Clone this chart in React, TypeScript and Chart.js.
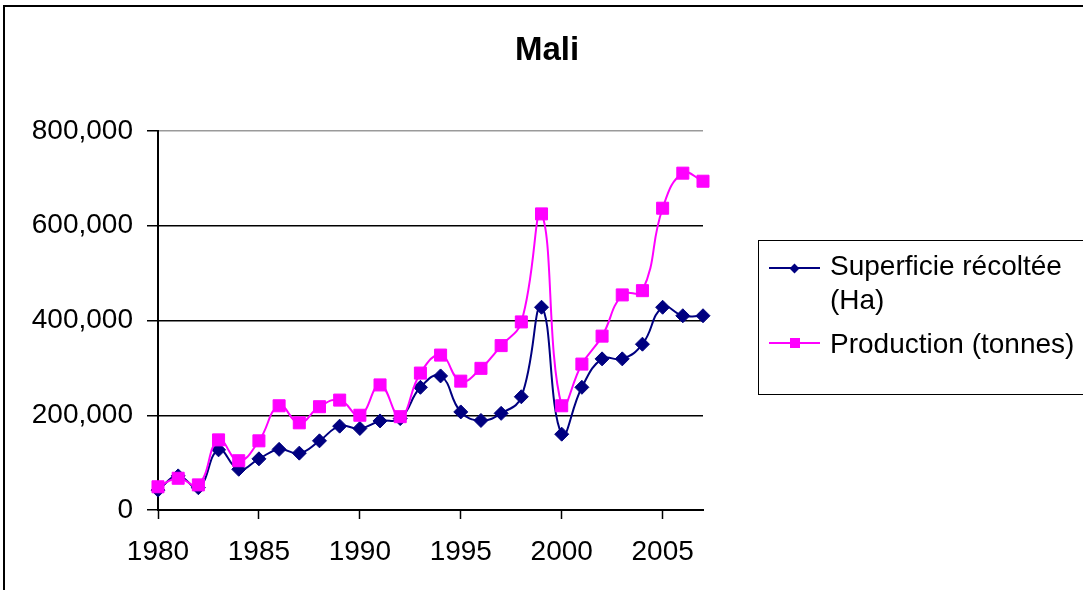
import React, { useEffect, useRef } from 'react';
import { Chart, registerables } from 'chart.js';

Chart.register(...registerables);

const years = [
  1980, 1981, 1982, 1983, 1984, 1985, 1986, 1987, 1988, 1989,
  1990, 1991, 1992, 1993, 1994, 1995, 1996, 1997, 1998, 1999,
  2000, 2001, 2002, 2003, 2004, 2005, 2006, 2007,
];

const superficie = [
  42000, 72000, 47000, 127000, 86000, 108000, 128000, 120000, 146000, 177000,
  172000, 188000, 193000, 259000, 283000, 207000, 189000, 204000, 239000, 428000,
  160000, 259000, 319000, 319000, 350000, 428000, 410000, 410000,
];

const production = [
  49000, 67000, 53000, 148000, 104000, 146000, 220000, 184000, 218000, 232000,
  200000, 264000, 197000, 289000, 327000, 272000, 299000, 347000, 397000, 625000,
  220000, 308000, 367000, 454000, 463000, 637000, 711000, 694000,
];

const yTickValues = [0, 200000, 400000, 600000, 800000];
const xTickValues = [1980, 1985, 1990, 1995, 2000, 2005];

const titleText = 'Mali';
const seriesNames = ['Superficie récoltée (Ha)', 'Production (tonnes)'];

const FONT = "'Liberation Sans', Arial, Helvetica, sans-serif";
const NAVY = '#000080';
const MAGENTA = '#FF00FF';

export default function App() {
  const ref = useRef<HTMLCanvasElement | null>(null);

  useEffect(() => {
    if (!ref.current) return;
    const chart = new Chart(ref.current, {
      type: 'line',
      data: {
        datasets: [
          {
            label: seriesNames[0],
            data: years.map((yr, i) => ({ x: yr, y: superficie[i] })),
            borderColor: NAVY,
            backgroundColor: NAVY,
            pointBackgroundColor: NAVY,
            pointBorderColor: NAVY,
            pointStyle: 'rectRot',
            pointRadius: 7,
            pointBorderWidth: 1,
            borderWidth: 2,
            tension: 0.45,
            clip: false,
            order: 1,
          },
          {
            label: seriesNames[1],
            data: years.map((yr, i) => ({ x: yr, y: production[i] })),
            borderColor: MAGENTA,
            backgroundColor: MAGENTA,
            pointBackgroundColor: MAGENTA,
            pointBorderColor: MAGENTA,
            pointStyle: 'rect',
            pointRadius: 8.5,
            pointBorderWidth: 1,
            borderWidth: 2,
            tension: 0.45,
            clip: false,
            order: 0,
          },
        ],
      },
      options: {
        animation: false,
        responsive: false,
        maintainAspectRatio: false,
        events: [],
        layout: { padding: { left: 8, right: 380, top: 131, bottom: 20 } },
        plugins: {
          legend: { display: false },
          tooltip: { enabled: false },
          title: { display: false },
        },
        scales: {
          x: {
            type: 'linear',
            min: 1980,
            max: 2007,
            afterBuildTicks: (s: any) => {
              s.ticks = xTickValues.map((v) => ({ value: v }));
            },
            afterFit: (s: any) => {
              s.height = 60;
            },
            ticks: {
              callback: (v: any) => String(v),
              color: '#000',
              font: { family: FONT, size: 28 },
              padding: 16,
              maxRotation: 0,
              autoSkip: false,
            },
            grid: {
              drawOnChartArea: false,
              tickLength: 9,
              tickColor: '#000',
              tickWidth: 1.5,
            },
            border: { color: '#000', width: 2 },
          },
          y: {
            min: 0,
            max: 800000,
            afterBuildTicks: (s: any) => {
              s.ticks = yTickValues.map((v) => ({ value: v }));
            },
            afterFit: (s: any) => {
              s.width = 150;
            },
            ticks: {
              callback: (v: any) => Number(v).toLocaleString('en-US'),
              color: '#000',
              font: { family: FONT, size: 28 },
              padding: 14,
            },
            grid: {
              color: (ctx: any) => (ctx.tick && ctx.tick.value === 800000 ? '#9a9a9a' : '#000'),
              lineWidth: 1.5,
              tickLength: 11,
              tickColor: '#000',
              tickWidth: 1.5,
            },
            border: { color: '#000', width: 2 },
          },
        },
      },
    } as any);
    return () => chart.destroy();
  }, []);

  const textStyle: React.CSSProperties = {
    position: 'absolute',
    fontFamily: FONT,
    fontSize: 28,
    lineHeight: '34px',
    color: '#000',
    whiteSpace: 'nowrap',
  };

  return (
    <div
      style={{
        position: 'fixed',
        left: 0,
        top: 0,
        width: 1083,
        height: 590,
        background: '#fff',
        overflow: 'hidden',
      }}
    >
      <div
        style={{
          position: 'absolute',
          left: 3,
          top: 5,
          width: 1200,
          height: 800,
          borderLeft: '2px solid #000',
          borderTop: '2px solid #000',
        }}
      />
      <canvas ref={ref} width={1083} height={590} style={{ position: 'absolute', left: 0, top: 0, display: 'block' }} />
      <div
        style={{
          position: 'absolute',
          left: 347,
          width: 400,
          top: 32,
          textAlign: 'center',
          fontFamily: FONT,
          fontWeight: 'bold',
          fontSize: 33,
          lineHeight: '33px',
          color: '#000',
        }}
      >
        {titleText}
      </div>
      <div
        style={{
          position: 'absolute',
          left: 758,
          top: 240,
          width: 400,
          height: 155,
          boxSizing: 'border-box',
          border: '1.5px solid #000',
        }}
      />
      {/* legend item 1 */}
      <div style={{ position: 'absolute', left: 769, top: 267, width: 51, height: 2, background: NAVY }} />
      <div
        style={{
          position: 'absolute',
          left: 794.5 - 3.5,
          top: 268 - 3.5,
          width: 7,
          height: 7,
          background: NAVY,
          transform: 'rotate(45deg)',
        }}
      />
      <div style={{ ...textStyle, left: 830, top: 249 }}>
        Superficie récoltée
        <br />
        (Ha)
      </div>
      {/* legend item 2 */}
      <div style={{ position: 'absolute', left: 769, top: 342, width: 51, height: 2, background: MAGENTA }} />
      <div
        style={{
          position: 'absolute',
          left: 794.5 - 5,
          top: 343 - 5,
          width: 10,
          height: 10,
          background: MAGENTA,
        }}
      />
      <div style={{ ...textStyle, left: 830, top: 327 }}>{seriesNames[1]}</div>
    </div>
  );
}
